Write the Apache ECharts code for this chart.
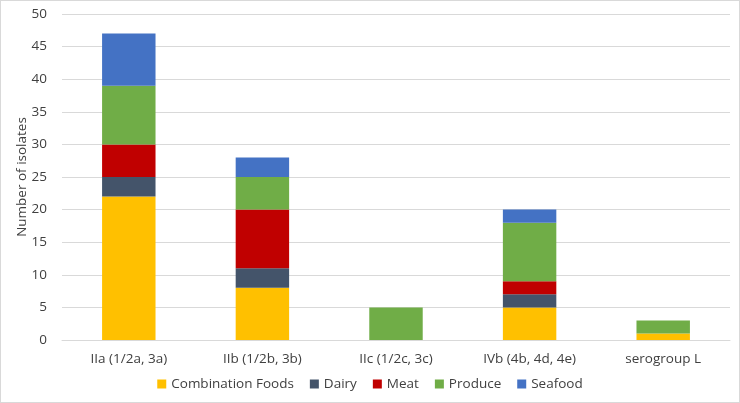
<!DOCTYPE html>
<html><head><meta charset="utf-8">
<script src="https://cdn.jsdelivr.net/npm/echarts@6/dist/echarts.min.js"></script>
<style>html,body{margin:0;padding:0;background:#fff;}#c{width:738px;height:401px;border:1px solid #d9d9d9;}</style>
</head><body><div id="c"></div>
<script>
const categories = ['IIa (1/2a, 3a)', 'IIb (1/2b, 3b)', 'IIc (1/2c, 3c)', 'IVb (4b, 4d, 4e)', 'serogroup L'];
const combinationFoods = [22, 8, 0, 5, 1];
const dairy = [3, 3, 0, 2, 0];
const meat = [5, 9, 0, 2, 0];
const produce = [9, 5, 5, 9, 2];
const seafood = [8, 3, 0, 2, 0];
const seriesNames = ['Combination Foods', 'Dairy', 'Meat', 'Produce', 'Seafood'];
const colors = ['#FFC000', '#44546A', '#C00000', '#70AD47', '#4472C4'];
const dataSets = [combinationFoods, dairy, meat, produce, seafood];
const font = 'Open Sans';
const chart = echarts.init(document.getElementById('c'));
chart.setOption({
  animation: false,
  grid: {left: 61, right: 9, top: 13, bottom: 62, outerBoundsMode: 'none', containLabel: false},
  legend: {
    bottom: 6, left: 'center', itemWidth: 9, itemHeight: 9, itemGap: 16, icon: 'rect',
    textStyle: {fontFamily: font, fontSize: 13.5, color: '#404040'},
    data: seriesNames
  },
  xAxis: {
    type: 'category', data: categories,
    axisLine: {lineStyle: {color: '#d9d9d9'}}, axisTick: {show: false},
    axisLabel: {fontFamily: font, fontSize: 13.5, color: '#404040', margin: 12}
  },
  yAxis: {
    type: 'value', min: 0, max: 50, interval: 5,
    name: 'Number of isolates', nameLocation: 'middle', nameGap: 33, nameMoveOverlap: false,
    nameTextStyle: {fontFamily: font, fontSize: 13.5, color: '#404040'},
    axisLine: {show: false}, axisTick: {show: false},
    axisLabel: {fontFamily: font, fontSize: 13.5, color: '#404040', margin: 15},
    splitLine: {lineStyle: {color: '#d9d9d9'}}
  },
  series: seriesNames.map((n, i) => ({
    name: n, type: 'bar', stack: 'total', barWidth: '40%',
    itemStyle: {color: colors[i]},
    data: dataSets[i].map(v => v === 0 ? null : v)
  }))
});
</script></body></html>
